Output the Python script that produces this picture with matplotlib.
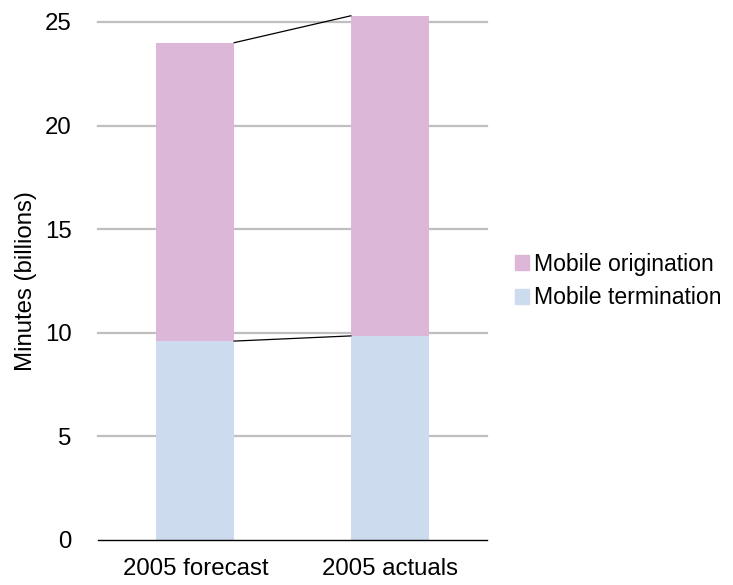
import matplotlib
matplotlib.use("Agg")
import matplotlib.pyplot as plt
from matplotlib.patches import Patch

plt.rcParams['font.family'] = ['Liberation Sans', 'DejaVu Sans']

categories = ['2005 forecast', '2005 actuals']
termination = [9.6, 9.85]
origination = [14.4, 15.45]
series_names = ['Mobile termination', 'Mobile origination']
colors = ['#CCDBEE', '#DDB7D7']
yticks = [0, 5, 10, 15, 20, 25]

fs = 17.3

fig = plt.figure(figsize=(7.33, 5.85), dpi=100)
ax = fig.add_axes([98 / 733, 45 / 585, 389 / 733, 518 / 585])

x = list(range(len(categories)))
w = 0.4
tops = [t + o for t, o in zip(termination, origination)]

ax.bar(x, termination, w, color=colors[0], zorder=2, clip_on=False)
ax.bar(x, origination, w, bottom=termination, color=colors[1], zorder=2,
       clip_on=False)

# series lines joining the segment edges
for level in (termination, tops):
    ax.plot([x[0] + w / 2, x[1] - w / 2], [level[0], level[1]],
            color='black', lw=0.9, zorder=3, clip_on=False)

ax.set_xlim(-0.5, 1.5)
ax.set_ylim(0, 25)
ax.set_yticks(yticks)
ax.set_xticks(x)
ax.set_xticklabels(categories)
ax.tick_params(axis='both', length=0, labelsize=fs, colors='black')
ax.tick_params(axis='y', pad=19)
ax.tick_params(axis='x', pad=13)

for yv in yticks[1:]:
    ax.axhline(yv, color='#BFBFBF', lw=1.6, zorder=1, clip_on=False)

for s in ('top', 'right', 'left'):
    ax.spines[s].set_visible(False)
ax.spines['bottom'].set_color('black')
ax.spines['bottom'].set_linewidth(1.0)

ax.set_ylabel('Minutes (billions)', fontsize=fs, labelpad=6)

handles = [Patch(color=colors[1], label=series_names[1]),
           Patch(color=colors[0], label=series_names[0])]
fig.legend(handles=handles, loc='center left',
           bbox_to_anchor=(494 / 733, 1 - 281 / 585), frameon=False,
           fontsize=16.6, handlelength=0.62, handleheight=0.62,
           handletextpad=0.2, labelspacing=0.45)

fig.savefig('out.png', dpi=100)
